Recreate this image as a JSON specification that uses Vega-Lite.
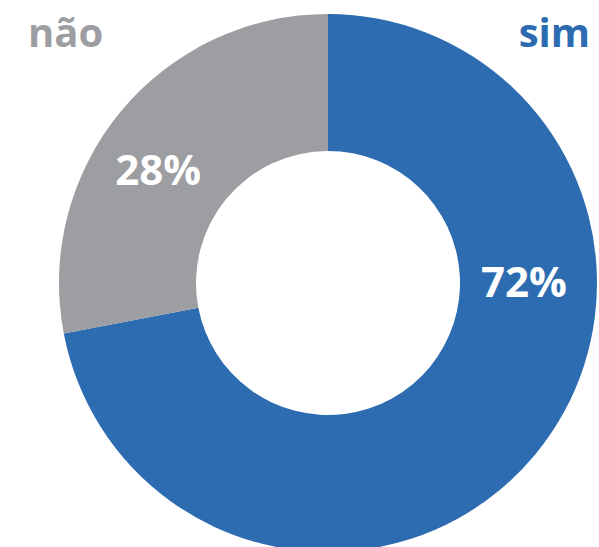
{
  "$schema": "https://vega.github.io/schema/vega-lite/v6.json",
  "autosize": "none",
  "width": 542,
  "height": 528,
  "padding": {"left": 57, "top": 19, "right": 0, "bottom": 0},
  "background": "white",
  "config": {"view": {"stroke": null}},
  "data": {"values": [
    {"resposta": "sim", "pct": 72, "label": "72%"},
    {"resposta": "não", "pct": 28, "label": "28%"}
  ]},
  "layer": [
    {
      "mark": {"type": "arc", "radius": 269, "radius2": 132, "stroke": null},
      "encoding": {
        "theta": {"field": "pct", "type": "quantitative", "stack": true},
        "order": {"field": "pct", "sort": "descending"},
        "color": {"field": "resposta", "type": "nominal", "scale": {"domain": ["sim", "não"], "range": ["#2E6CB1", "#9D9EA2"]}, "legend": null}
      }
    },
    {
      "transform": [{"filter": "datum.resposta === 'sim'"}],
      "mark": {"type": "text", "theta": 1.642, "radius": 196.5, "align": "center", "baseline": "alphabetic", "font": "Open Sans", "fontWeight": "bold", "fontSize": 42, "color": "white"},
      "encoding": {"text": {"field": "label"}}
    },
    {
      "transform": [{"filter": "datum.resposta === 'não'"}],
      "mark": {"type": "text", "theta": 5.236, "radius": 196.2, "align": "center", "baseline": "alphabetic", "font": "Open Sans", "fontWeight": "bold", "fontSize": 42, "color": "white"},
      "encoding": {"text": {"field": "label"}}
    },
    {
      "transform": [{"filter": "datum.resposta === 'não'"}],
      "mark": {"type": "text", "x": -29, "y": 27.5, "align": "left", "baseline": "alphabetic", "font": "Open Sans", "fontWeight": "bold", "fontSize": 40, "color": "#9D9EA2"},
      "encoding": {"text": {"field": "resposta"}}
    },
    {
      "transform": [{"filter": "datum.resposta === 'sim'"}],
      "mark": {"type": "text", "x": 533, "y": 27.5, "align": "right", "baseline": "alphabetic", "font": "Open Sans", "fontWeight": "bold", "fontSize": 40, "color": "#2E6CB1"},
      "encoding": {"text": {"field": "resposta"}}
    }
  ]
}
